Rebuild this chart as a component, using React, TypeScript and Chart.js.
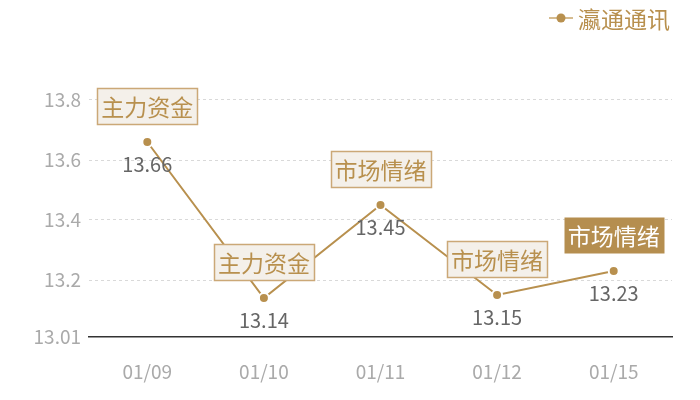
import { useEffect, useRef } from "react";
import { Chart, registerables } from "chart.js";

Chart.register(...registerables);

const dates = ["01/09", "01/10", "01/11", "01/12", "01/15"];
const prices = [13.66, 13.14, 13.45, 13.15, 13.23];
const tags = ["主力资金", "主力资金", "市场情绪", "市场情绪", "市场情绪"];
const highlighted = [false, false, false, false, true];
const yTicks = [13.01, 13.2, 13.4, 13.6, 13.8];
const seriesName = "瀛通通讯";

const GOLD = "#b8904e";
const FONT = "'Noto Sans CJK SC', 'Noto Sans', sans-serif";

// draws the value labels, the tag boxes and the legend
const markPlugin = {
  id: "marks",
  afterDatasetsDraw(chart: Chart) {
    const { ctx } = chart;
    const meta = chart.getDatasetMeta(0);
    ctx.save();
    meta.data.forEach((pt: any, i: number) => {
      const x = pt.x;
      const y = pt.y;
      // value under the point
      ctx.font = `20px ${FONT}`;
      ctx.fillStyle = "#666";
      ctx.textAlign = "center";
      ctx.textBaseline = "middle";
      ctx.fillText(prices[i].toFixed(2), x, y + 22);

      // tag box above the point
      ctx.font = `23px ${FONT}`;
      const w = ctx.measureText(tags[i]).width + 8;
      const h = 36;
      const bx = Math.round(x - w / 2) + 0.5;
      const by = Math.round(y - 18 - h) + 0.5;
      if (highlighted[i]) {
        ctx.fillStyle = "#b58e4f";
        ctx.fillRect(bx, by, w, h);
        ctx.fillStyle = "#fff";
      } else {
        ctx.fillStyle = "#f4f0ea";
        ctx.fillRect(bx, by, w, h);
        ctx.strokeStyle = "#cba877";
        ctx.lineWidth = 1.5;
        ctx.strokeRect(bx, by, w, h);
        ctx.fillStyle = GOLD;
      }
      ctx.fillText(tags[i], x, by + h / 2 + 1);
    });

    // legend
    ctx.strokeStyle = "#d6bc90";
    ctx.lineWidth = 2;
    ctx.beginPath();
    ctx.moveTo(549, 18);
    ctx.lineTo(573, 18);
    ctx.stroke();
    ctx.fillStyle = GOLD;
    ctx.beginPath();
    ctx.arc(561, 18, 4.5, 0, Math.PI * 2);
    ctx.fill();
    ctx.font = `23px ${FONT}`;
    ctx.textAlign = "left";
    ctx.textBaseline = "middle";
    ctx.fillText(seriesName, 578, 19);
    ctx.restore();
  },
};

export default function App() {
  const chartRef = useRef<HTMLCanvasElement>(null);
  const chartInstance = useRef<Chart | null>(null);

  useEffect(() => {
    document.body.style.margin = "0";
    if (!chartRef.current) return;
    if (chartInstance.current) chartInstance.current.destroy();
    const ctx = chartRef.current.getContext("2d");
    if (!ctx) return;

    chartInstance.current = new Chart(ctx, {
      type: "line",
      data: {
        labels: dates,
        datasets: [
          {
            label: seriesName,
            data: prices,
            borderColor: GOLD,
            borderWidth: 2,
            backgroundColor: GOLD,
            pointBackgroundColor: GOLD,
            pointBorderColor: "#fff",
            pointBorderWidth: 2,
            pointRadius: 5,
            tension: 0,
          },
        ],
      },
      options: {
        responsive: true,
        maintainAspectRatio: false,
        animation: false,
        layout: { padding: { top: 70, right: 28, left: 0, bottom: 0 } },
        plugins: {
          legend: { display: false },
          tooltip: { enabled: false },
        },
        scales: {
          x: {
            offset: true,
            grid: { display: false, drawTicks: false },
            border: { display: true, color: "#333", width: 1.5 },
            ticks: {
              padding: 23,
              color: "#aaa",
              font: { family: FONT, size: 19 },
            },
            afterFit: (scale: any) => {
              scale.height = 63;
            },
          },
          y: {
            min: 13.01,
            max: 13.9,
            afterBuildTicks: (scale: any) => {
              scale.ticks = yTicks.map((v) => ({ value: v }));
            },
            afterFit: (scale: any) => {
              scale.width = 89;
            },
            grid: {
              drawTicks: false,
              color: (c: any) =>
                c.tick && c.tick.value === 13.01 ? "rgba(0,0,0,0)" : "#d9d9d9",
              lineWidth: 1,
            },
            border: { display: false, dash: [3, 3] },
            ticks: {
              padding: 8,
              color: "#aaa",
              font: { family: FONT, size: 19 },
              callback: (v: any) => String(v),
            },
          },
        },
      },
      plugins: [markPlugin],
    });

    return () => {
      if (chartInstance.current) {
        chartInstance.current.destroy();
        chartInstance.current = null;
      }
    };
  }, []);

  return (
    <div style={{ width: 700, height: 400, position: "relative" }}>
      <canvas ref={chartRef}></canvas>
    </div>
  );
}
